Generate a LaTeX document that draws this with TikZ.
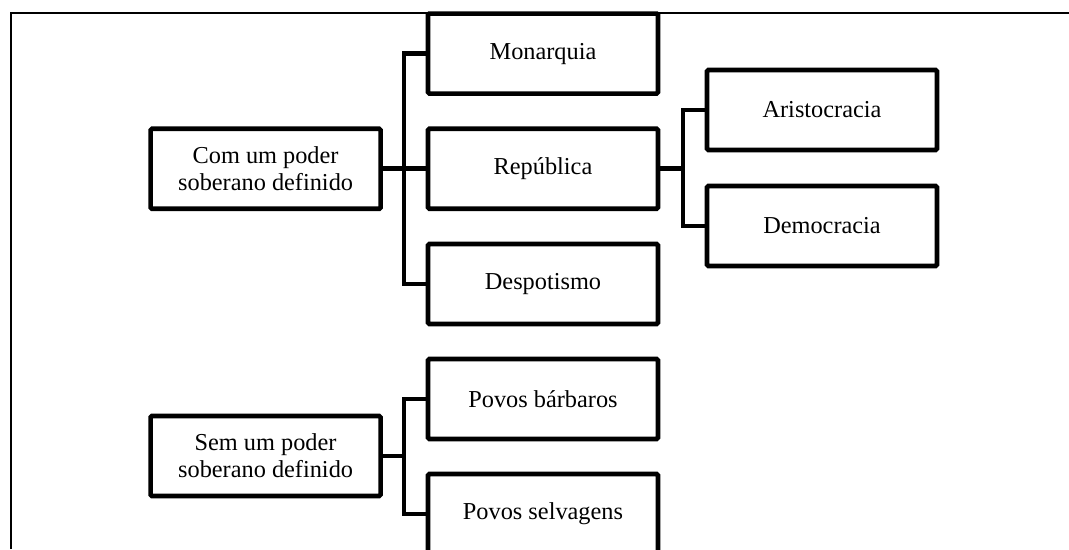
\documentclass[tikz,border=0pt]{standalone}
\usepackage{fontspec}
\setmainfont{Liberation Serif}
\usepackage{tikz}
\usetikzlibrary{calc}
\tikzset{caixa/.style = {shape=rectangle,draw,line width=3.3pt,rounded corners=1pt,fill=white,
    minimum width=5.75cm,minimum height=2cm,align=center,font=\fontsize{17.3}{19.2}\selectfont}}
\tikzset{ligacao/.style = {line width=3.3pt}}
\tikzset{moldura/.style = {line width=1pt}}
\begin{document}
\begin{tikzpicture}
            \useasboundingbox (0,0) rectangle (26.725,-13.725);
            % Frame
            \draw[moldura] (0.275,-13.725) |- (26.725,-0.32);

            % Vertices
            \node[caixa] (com) at (6.64,-4.22) {Com um poder\\soberano definido};
            \node[caixa] (mon) at (13.575,-1.34) {Monarquia};
            \node[caixa] (rep) at (13.575,-4.22) {República};
            \node[caixa] (des) at (13.575,-7.1) {Despotismo};
            \node[caixa] (ari) at (20.55,-2.75) {Aristocracia};
            \node[caixa] (dem) at (20.55,-5.65) {Democracia};

            \node[caixa] (sem) at (6.64,-11.4) {Sem um poder\\soberano definido};
            \node[caixa] (bar) at (13.575,-9.975) {Povos bárbaros};
            \node[caixa] (sel) at (13.575,-12.85) {Povos selvagens};

            % Edges
            \coordinate (t1) at (10.1,-4.22);
            \coordinate (t2) at (17.075,-4.22);
            \coordinate (t3) at (10.1,-11.4);

            % com
            \draw[ligacao] (com.east) -- (rep.west);
            \draw[ligacao] (mon.west) -| (t1) |- (des.west);

            % rep
            \draw[ligacao] (rep.east) -- (t2);
            \draw[ligacao] (ari.west) -| (t2) |- (dem.west);

            % sem
            \draw[ligacao] (sem.east) -- (t3);
            \draw[ligacao] (bar.west) -| (t3) |- (sel.west);
        \end{tikzpicture}
\end{document}
